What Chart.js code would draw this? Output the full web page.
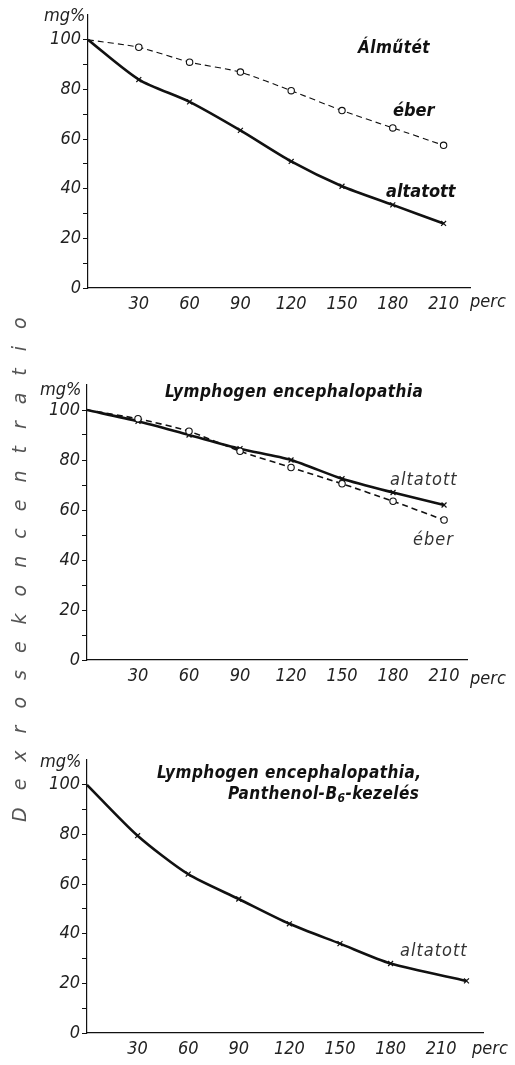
<!DOCTYPE html>
<html><head><meta charset="utf-8">
<script src="https://cdn.jsdelivr.net/npm/chart.js@4/dist/chart.umd.min.js"></script>
<style>
html,body{margin:0;padding:0;background:#fff;}
body{width:515px;height:1065px;position:relative;overflow:hidden;font-family:"Liberation Sans Narrow","DejaVu Sans Condensed","Liberation Sans",sans-serif;color:#111;}
canvas{position:absolute;left:0;}
.t{position:absolute;font-style:italic;white-space:nowrap;line-height:1;}
.lab{font-size:18px;font-weight:300;color:#222;}
.ttl{font-size:17px;font-weight:bold;letter-spacing:0.45px;}
.lbl{font-size:18px;font-weight:bold;}
.thin{font-size:18px;color:#333;letter-spacing:1px;}
#vert{position:absolute;left:0;top:0;transform-origin:0 0;transform:translate(8px,822px) rotate(-90deg);font-style:italic;font-size:19px;letter-spacing:17px;color:#555;white-space:nowrap;font-family:"DejaVu Sans","Liberation Sans",sans-serif;font-weight:300;}
</style></head><body>
<canvas id="c1" width="515" height="320" style="top:0"></canvas>
<canvas id="c2" width="515" height="370" style="top:320px"></canvas>
<canvas id="c3" width="515" height="375" style="top:690px"></canvas>

<div class="t lab" style="left:44px;top:6px">mg%</div>
<div class="t ttl" style="left:358px;top:39px">Álműtét</div>
<div class="t lbl" style="left:393px;top:101px">éber</div>
<div class="t lbl" style="left:386px;top:182px">altatott</div>
<div class="t lab" style="left:470px;top:292px">perc</div>

<div class="t lab" style="left:40px;top:380px">mg%</div>
<div class="t ttl" style="left:165px;top:383px">Lymphogen encephalopathia</div>
<div class="t thin" style="left:390px;top:470px">altatott</div>
<div class="t thin" style="left:413px;top:530px">éber</div>
<div class="t lab" style="left:470px;top:669px">perc</div>

<div class="t lab" style="left:40px;top:752px">mg%</div>
<div class="t ttl" style="left:157px;top:764px">Lymphogen encephalopathia,</div>
<div class="t ttl" style="left:228px;top:785px">Panthenol-B<sub style="font-size:12px;vertical-align:-3px">6</sub>-kezelés</div>
<div class="t thin" style="left:400px;top:941px">altatott</div>
<div class="t lab" style="left:472px;top:1039px">perc</div>

<div id="vert">Dexrosekoncentratio</div>

<script>
// ---- data ----
const minutes = [0, 30, 60, 90, 120, 150, 180, 210];
const minutesB6 = [0, 30, 60, 90, 120, 150, 180, 225];
const almAltatott = [100, 84, 75, 63.5, 51, 41, 33.5, 26];
const almEber = [100, 97, 91, 87, 79.5, 71.5, 64.5, 57.5];
const lymphAltatott = [100, 95.5, 90, 84.5, 80, 72.5, 67, 62];
const lymphEber = [100, 96.5, 91.5, 83.5, 77, 70.5, 63.5, 56];
const b6Altatott = [100, 79.5, 64, 54, 44, 36, 28, 21];
const xTickValues = [30, 60, 90, 120, 150, 180, 210];
const yTickValues = [0, 10, 20, 30, 40, 50, 60, 70, 80, 90, 100];

const FONT = '"Liberation Sans Narrow","DejaVu Sans Condensed","Liberation Sans",sans-serif';

function pts(xs, ys){ return xs.map((x,i)=>({x:x, y:ys[i]})); }

function solidSet(xs, ys){
  return {data: pts(xs, ys), borderColor:'#111', borderWidth:2.6, tension:0.25,
    pointStyle:'crossRot', pointRadius: ys.map((v,i)=>i===0?0:3.5),
    pointBorderWidth:1.2, pointBorderColor:'#111', pointBackgroundColor:'#111'};
}
function dashSet(xs, ys, w){
  return {data: pts(xs, ys), borderColor:'#111', borderWidth:w, borderDash:[6,4], tension:0.2,
    pointStyle:'circle', pointRadius: ys.map((v,i)=>i===0?0:3.2),
    pointBorderWidth:1.1, pointBorderColor:'#111', pointBackgroundColor:'#fff'};
}

function makeChart(id, datasets, opt){
  new Chart(document.getElementById(id), {
    type:'line',
    data:{datasets: datasets},
    options:{
      responsive:false, animation:false, devicePixelRatio:1,
      layout:{padding:{left:0, top:opt.top, right:opt.right, bottom:0}},
      plugins:{legend:{display:false}, tooltip:{enabled:false}},
      scales:{
        x:{type:'linear', min:0, max:opt.xmax,
          afterBuildTicks:(s)=>{ s.ticks = xTickValues.map(v=>({value:v})); },
          afterFit:(s)=>{ s.height = opt.xh; },
          grid:{drawOnChartArea:false, drawTicks:false},
          border:{display:true, color:'#111', width:1.2},
          ticks:{padding:6, color:'#222', maxRotation:0, autoSkip:false,
            font:{family:FONT, size:18, style:'italic'}}},
        y:{type:'linear', min:0, max:110,
          afterBuildTicks:(s)=>{ s.ticks = yTickValues.map(v=>({value:v})); },
          afterFit:(s)=>{ s.width = opt.left; },
          grid:{drawOnChartArea:false, drawTicks:true, tickLength:5, color:'#111', lineWidth:1},
          border:{display:true, color:'#111', width:1.2},
          ticks:{padding:2, color:'#222', autoSkip:false,
            callback:(v)=> (v%20===0 ? String(v) : ''),
            font:{family:FONT, size:18, style:'italic'}}}
      }
    }
  });
}

makeChart('c1', [dashSet(minutes, almEber, 1.1), solidSet(minutes, almAltatott)],
  {top:15, right:45, left:88, xh:32, xmax:225.6});
makeChart('c2', [dashSet(minutes, lymphEber, 1.6), solidSet(minutes, lymphAltatott)],
  {top:65, right:48, left:87, xh:30, xmax:223.5});
makeChart('c3', [solidSet(minutesB6, b6Altatott)],
  {top:70, right:32, left:87, xh:32, xmax:234.8});
</script>
</body></html>
